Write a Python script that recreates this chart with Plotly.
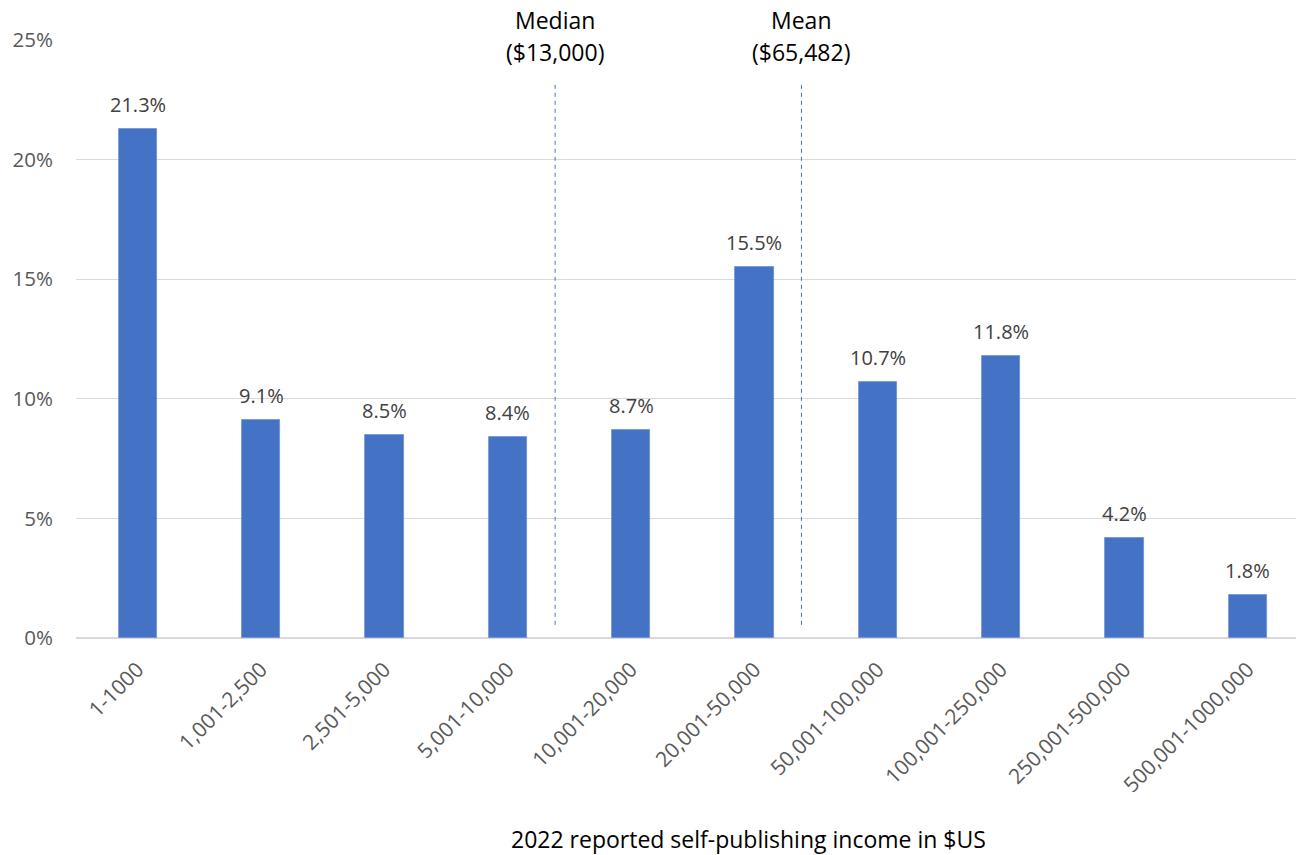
import plotly.graph_objects as go

# Income brackets (US$) and share of respondents (%)
categories = ["1-1000", "1,001-2,500", "2,501-5,000", "5,001-10,000", "10,001-20,000",
              "20,001-50,000", "50,001-100,000", "100,001-250,000", "250,001-500,000",
              "500,001-1000,000"]
shares = [21.3, 9.1, 8.5, 8.4, 8.7, 15.5, 10.7, 11.8, 4.2, 1.8]

# Reference markers drawn between brackets
marker_names = ["Median", "Mean"]
marker_values = ["($13,000)", "($65,482)"]
marker_pos = [3.384, 5.381]

y_ticks = [0, 5, 10, 15, 20, 25]

FONT = "Open Sans"
BAR = "#4472C4"

W, H = 1296, 855
top_m, bot_m, left_m = 40, 217, 76
plot_h = H - top_m - bot_m
plot_w = W - left_m


def py(px):
    """pixel row -> paper y"""
    return 1 + (top_m - px) / plot_h


x_idx = list(range(len(categories)))

fig = go.Figure()
fig.add_trace(go.Bar(
    x=x_idx, y=shares, width=0.31,
    marker=dict(color=BAR, line=dict(color="#6A8FD3", width=0.8)),
    hoverinfo="skip",
))

annotations = []
for xi, v in zip(x_idx, shares):
    annotations.append(dict(
        x=xi, y=v, xref="x", yref="y", text=f"{v:.1f}%", showarrow=False,
        yanchor="bottom", yshift=9,
        font=dict(family=FONT, size=20, color="#404040"),
    ))

shapes = []
for name, val, pos in zip(marker_names, marker_values, marker_pos):
    shapes.append(dict(
        type="line", xref="x", yref="y", x0=pos, x1=pos, y0=0.55, y1=23.2,
        line=dict(color=BAR, width=1, dash="4px,4px"),
    ))
    annotations.append(dict(
        x=pos, y=py(20), xref="x", yref="paper", yanchor="middle", showarrow=False,
        text=name, font=dict(family=FONT, size=23, color="#000000"),
    ))
    annotations.append(dict(
        x=pos, y=py(52), xref="x", yref="paper", yanchor="middle", showarrow=False,
        text=val, font=dict(family=FONT, size=23, color="#000000"),
    ))

annotations.append(dict(
    x=(748 - left_m) / plot_w, y=py(839), xref="paper", yref="paper",
    xanchor="center", yanchor="middle", showarrow=False,
    text="2022 reported self-publishing income in $US",
    font=dict(family=FONT, size=23, color="#000000"),
))

fig.update_layout(
    width=W, height=H,
    margin=dict(l=left_m, r=0, t=top_m, b=bot_m, autoexpand=False),
    paper_bgcolor="white", plot_bgcolor="white",
    showlegend=False,
    annotations=annotations,
    shapes=shapes,
    bargap=0,
)
fig.update_xaxes(
    range=[-0.5, 9.39],
    tickmode="array", tickvals=x_idx, ticktext=categories,
    tickangle=-45, showgrid=False, zeroline=False,
    showline=False, ticks="", ticklabelstandoff=14,
    tickfont=dict(family=FONT, size=21, color="#595959"),
)
fig.update_yaxes(
    range=[0, 25], tickmode="array", tickvals=y_ticks,
    ticktext=[f"{t}%" for t in y_ticks],
    showgrid=True, gridcolor="#D9D9D9", gridwidth=1.3,
    zeroline=True, zerolinecolor="#D9D9D9", zerolinewidth=2,
    showline=False, ticks="", ticklabelstandoff=22,
    tickfont=dict(family=FONT, size=20.5, color="#595959"),
)

fig.write_html("out.html")
